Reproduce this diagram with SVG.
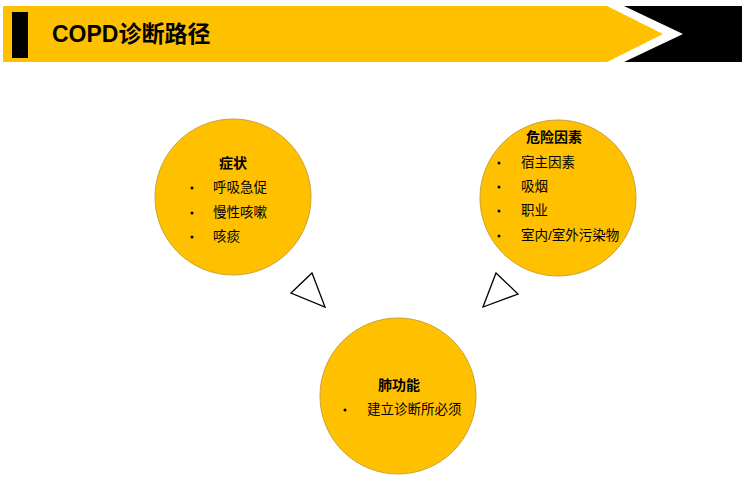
<svg xmlns="http://www.w3.org/2000/svg" width="750" height="485" viewBox="0 0 750 485">
<style>
.c{fill:#FFC000;stroke:#C9A235;stroke-width:1}
.h{font-family:"Liberation Sans","Noto Sans CJK SC",sans-serif;font-size:14px;font-weight:bold;fill:#000;text-anchor:middle}
.t{font-family:"Liberation Sans","Noto Sans CJK SC",sans-serif;font-size:13.5px;fill:#000}
.b{fill:#000;stroke:none}
.tri{fill:#fff;stroke:#000;stroke-width:1.3;stroke-linejoin:miter}
</style>
<rect width="750" height="485" fill="#fff"/>
<g id="header">
<polygon points="3,6 607,6 663,34 607,62 3,62" fill="#FFC000"/>
<polygon points="624,6 742,6 742,62 624,62 683,34" fill="#000"/>
<rect x="12" y="12" width="16" height="46" fill="#000"/>
<text x="52" y="42" font-family="Liberation Sans,Noto Sans CJK SC,sans-serif" font-size="23" font-weight="bold" fill="#000">COPD诊断路径</text>
</g>
<g id="symptoms" class="node">
<circle class="c" cx="233" cy="197" r="78"/>
<text class="h" x="233" y="168">症状</text>
<circle class="b" cx="192" cy="188" r="1.5"/>
<text class="t" x="213" y="192">呼吸急促</text>
<circle class="b" cx="192" cy="213" r="1.5"/>
<text class="t" x="213" y="217">慢性咳嗽</text>
<circle class="b" cx="192" cy="237" r="1.5"/>
<text class="t" x="213" y="241">咳痰</text>
</g>
<g id="risk" class="node">
<circle class="c" cx="558" cy="198" r="78"/>
<text class="h" x="554" y="142">危险因素</text>
<circle class="b" cx="499" cy="163" r="1.5"/>
<text class="t" x="521" y="167">宿主因素</text>
<circle class="b" cx="499" cy="187" r="1.5"/>
<text class="t" x="521" y="191">吸烟</text>
<circle class="b" cx="499" cy="211" r="1.5"/>
<text class="t" x="521" y="215">职业</text>
<circle class="b" cx="499" cy="236" r="1.5"/>
<text class="t" x="521" y="240">室内/室外污染物</text>
</g>
<g id="lung" class="node">
<circle class="c" cx="398" cy="396" r="78"/>
<text class="h" x="399" y="390">肺功能</text>
<circle class="b" cx="345" cy="410" r="1.5"/>
<text class="t" x="367" y="414">建立诊断所必须</text>
</g>
<g id="connectors">
<polygon class="tri" points="291,293 312,273 325,307"/>
<polygon class="tri" points="496,273 518,294 483,307"/>
</g>
</svg>
